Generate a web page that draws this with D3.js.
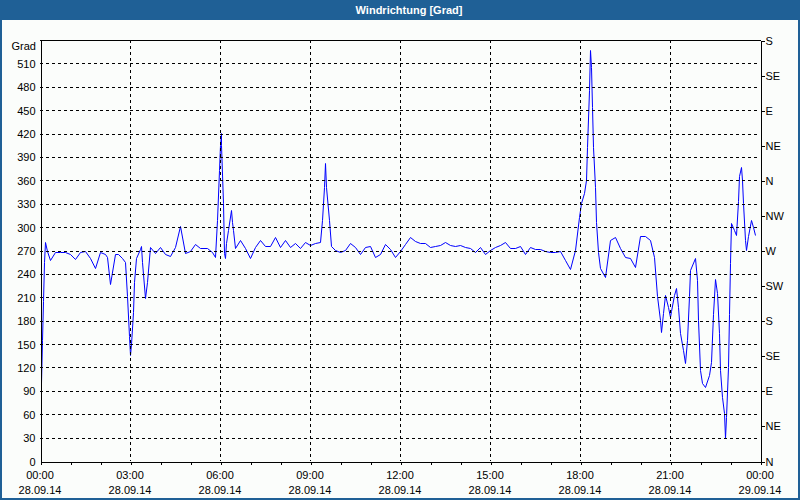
<!DOCTYPE html>
<html>
<head>
<meta charset="utf-8">
<script src="https://cdn.jsdelivr.net/npm/d3@7"></script>
<style>
  body { margin: 0; background: #fff; }
  svg text { font-family: "Liberation Sans", Arial, sans-serif; font-size: 11px; fill: #000; }
</style>
</head>
<body>
<div id="chart"></div>
<script>
const width = 800, height = 500;
const margin = { top: 40, right: 40, bottom: 39, left: 40 };

// minutes since 28.09.14 00:00
const minutes = [
  0, 2, 4, 6, 8, 10, 14, 20, 30, 40, 50, 60, 70, 80, 90, 100, 110, 120, 130, 134,
  140, 150, 156, 164, 170, 174, 177, 180, 182, 185, 188, 191, 199, 202, 204, 210, 214, 220, 230, 240,
  250, 260, 270, 280, 290, 300, 310, 320, 334, 344, 350, 353, 357, 359, 361, 363, 365, 368, 370, 372,
  376, 381, 383, 386, 390, 400, 410, 420, 430, 440, 450, 460, 470, 480, 490, 500, 510, 520, 530, 540,
  550, 560, 563, 567, 570, 573, 577, 581, 590, 600, 610, 620, 630, 640, 650, 660, 670, 680, 690, 700,
  710, 720, 730, 740, 750, 760, 770, 780, 790, 800, 810, 820, 830, 840, 850, 860, 870, 880, 890, 900,
  910, 920, 930, 940, 950, 960, 970, 980, 990, 1000, 1010, 1020, 1030, 1040, 1050, 1060, 1070, 1077, 1081, 1087,
  1091, 1093, 1097, 1100, 1102, 1104, 1106, 1109, 1111, 1115, 1120, 1130, 1140, 1150, 1160, 1170, 1180, 1190, 1200, 1210,
  1220, 1228, 1233, 1239, 1241, 1245, 1250, 1255, 1259, 1261, 1267, 1271, 1275, 1280, 1285, 1290, 1293, 1297, 1300, 1310,
  1313, 1317, 1320, 1323, 1330, 1337, 1341, 1345, 1350, 1353, 1357, 1360, 1363, 1367, 1370, 1372, 1375, 1377, 1379, 1381,
  1387, 1391, 1395, 1398, 1401, 1403, 1407, 1410, 1412, 1415, 1421, 1425, 1430
];
const degrees = [
  52, 100, 155, 205, 255, 281, 270, 258, 268, 268, 268, 266, 259, 268, 270, 260, 248, 268, 266, 262,
  227, 265, 265, 260, 255, 212, 160, 136, 150, 191, 230, 260, 272, 276, 255, 209, 230, 274, 267, 274,
  265, 263, 274, 301, 267, 269, 278, 273, 273, 268, 262, 309, 373, 405, 421, 405, 331, 267, 260, 280,
  296, 322, 307, 296, 273, 283, 273, 261, 275, 283, 276, 276, 287, 275, 283, 274, 279, 273, 281, 277,
  280, 281, 309, 352, 382, 352, 309, 276, 271, 268, 271, 280, 274, 266, 275, 276, 262, 265, 278, 272,
  262, 269, 278, 287, 282, 279, 279, 275, 276, 277, 281, 277, 276, 277, 275, 273, 268, 275, 265, 271,
  275, 277, 281, 273, 273, 276, 265, 274, 272, 272, 269, 268, 268, 270, 258, 246, 271, 313, 331, 344,
  360, 403, 476, 527, 506, 454, 403, 352, 307, 268, 247, 236, 283, 287, 273, 262, 261, 249, 289, 288,
  283, 262, 211, 181, 166, 190, 213, 198, 185, 192, 213, 222, 198, 164, 142, 126, 155, 211, 245, 260,
  232, 181, 117, 100, 95, 110, 127, 189, 233, 215, 164, 117, 82, 61, 29, 57, 121, 189, 254, 305,
  296, 290, 333, 365, 377, 360, 331, 283, 271, 288, 309, 300, 290
];

const leftTicks = d3.range(0, 511, 30);
const compassTicks = d3.range(0, 541, 45);
const compassLabels = ["N", "NE", "E", "SE", "S", "SW", "W", "NW", "N", "NE", "E", "SE", "S"];
const dayStart = new Date(2014, 8, 28, 0, 0);
const dayEnd = new Date(2014, 8, 29, 0, 0);

const data = minutes.map((m, i) => ({ t: d3.timeMinute.offset(dayStart, m), v: degrees[i] }));

const svg = d3.select("#chart").append("svg")
    .attr("width", width)
    .attr("height", height);

// frame and title bar
svg.append("rect")
    .attr("x", 1).attr("y", 1)
    .attr("width", width - 2).attr("height", height - 2)
    .attr("fill", "#fbfdfb")
    .attr("stroke", "#1f6096")
    .attr("stroke-width", 2);
svg.append("rect")
    .attr("x", 0).attr("y", 0)
    .attr("width", width).attr("height", 20)
    .attr("fill", "#1f6096");
svg.append("text")
    .attr("x", 409).attr("y", 14)
    .attr("text-anchor", "middle")
    .style("fill", "#fff")
    .style("font-weight", "bold")
    .text("Windrichtung [Grad]");

const x = d3.scaleTime().domain([dayStart, dayEnd]).range([margin.left, width - margin.right]);
const y = d3.scaleLinear().domain([0, 540]).range([height - margin.bottom, margin.top]);

// data line (first sample sits just right of the axis, as in the original)
const line = d3.line()
    .x(function (d) { return Math.max(Math.round(x(d.t)) + 0.5, margin.left + 1.5); })
    .y(function (d) { return Math.round(y(d.v)) + 0.5; });

svg.append("path")
    .datum(data)
    .attr("d", line)
    .attr("fill", "none")
    .attr("stroke", "#0000ff")
    .attr("stroke-width", 1);

// grid on top of the line
const grid = svg.append("g")
    .attr("stroke", "#000")
    .attr("stroke-dasharray", "3,3")
    .attr("shape-rendering", "crispEdges");

grid.selectAll(".hgrid")
    .data(leftTicks.filter(function (d) { return d > 0; }))
    .enter().append("line")
    .attr("x1", margin.left).attr("x2", width - margin.right)
    .attr("y1", function (d) { return Math.round(y(d)) + 0.5; })
    .attr("y2", function (d) { return Math.round(y(d)) + 0.5; });

const majorTimes = d3.timeHour.every(3).range(dayStart, dayEnd);
grid.selectAll(".vgrid")
    .data(majorTimes.filter(function (d) { return d > dayStart; }))
    .enter().append("line")
    .attr("y1", margin.top).attr("y2", height - margin.bottom)
    .attr("x1", function (d) { return Math.round(x(d)) + 0.5; })
    .attr("x2", function (d) { return Math.round(x(d)) + 0.5; });

// axes
const leftAxis = d3.axisLeft(y).tickValues(leftTicks).tickSize(0).tickPadding(5);
const gLeft = svg.append("g")
    .attr("transform", "translate(" + (margin.left + 0.5) + ",0.5)")
    .call(leftAxis);

const rightAxis = d3.axisRight(y).tickValues(compassTicks)
    .tickFormat(function (d, i) { return compassLabels[i]; })
    .tickSize(4).tickPadding(1);
const gRight = svg.append("g")
    .attr("transform", "translate(" + (width - margin.right + 0.5) + ",0.5)")
    .call(rightAxis);

const bottomAxis = d3.axisBottom(x).ticks(d3.timeMinute.every(90)).tickSize(3).tickFormat("");
const gBottom = svg.append("g")
    .attr("transform", "translate(0.5," + (height - margin.bottom + 0.5) + ")")
    .call(bottomAxis);

[gLeft, gRight, gBottom].forEach(function (g) {
    g.selectAll("path, line").attr("stroke", "#000").attr("shape-rendering", "crispEdges");
    g.attr("font-family", null).attr("font-size", null);
});

// top border
svg.append("line")
    .attr("x1", margin.left).attr("x2", width - margin.right + 1)
    .attr("y1", margin.top + 0.5).attr("y2", margin.top + 0.5)
    .attr("stroke", "#000")
    .attr("shape-rendering", "crispEdges");

// time labels, two lines
const fmtTime = d3.timeFormat("%H:%M");
const fmtDate = d3.timeFormat("%d.%m.%y");
const xLabels = svg.selectAll(".xlabel")
    .data(majorTimes.concat([dayEnd]))
    .enter().append("text")
    .attr("text-anchor", "middle")
    .attr("transform", function (d) { return "translate(" + x(d) + ",0)"; });
xLabels.append("tspan").attr("x", 0).attr("y", 479).text(function (d) { return fmtTime(d); });
xLabels.append("tspan").attr("x", 0).attr("y", 494).text(function (d) { return fmtDate(d); });

svg.append("text")
    .attr("x", 36).attr("y", 50)
    .attr("text-anchor", "end")
    .text("Grad");
</script>
</body>
</html>
